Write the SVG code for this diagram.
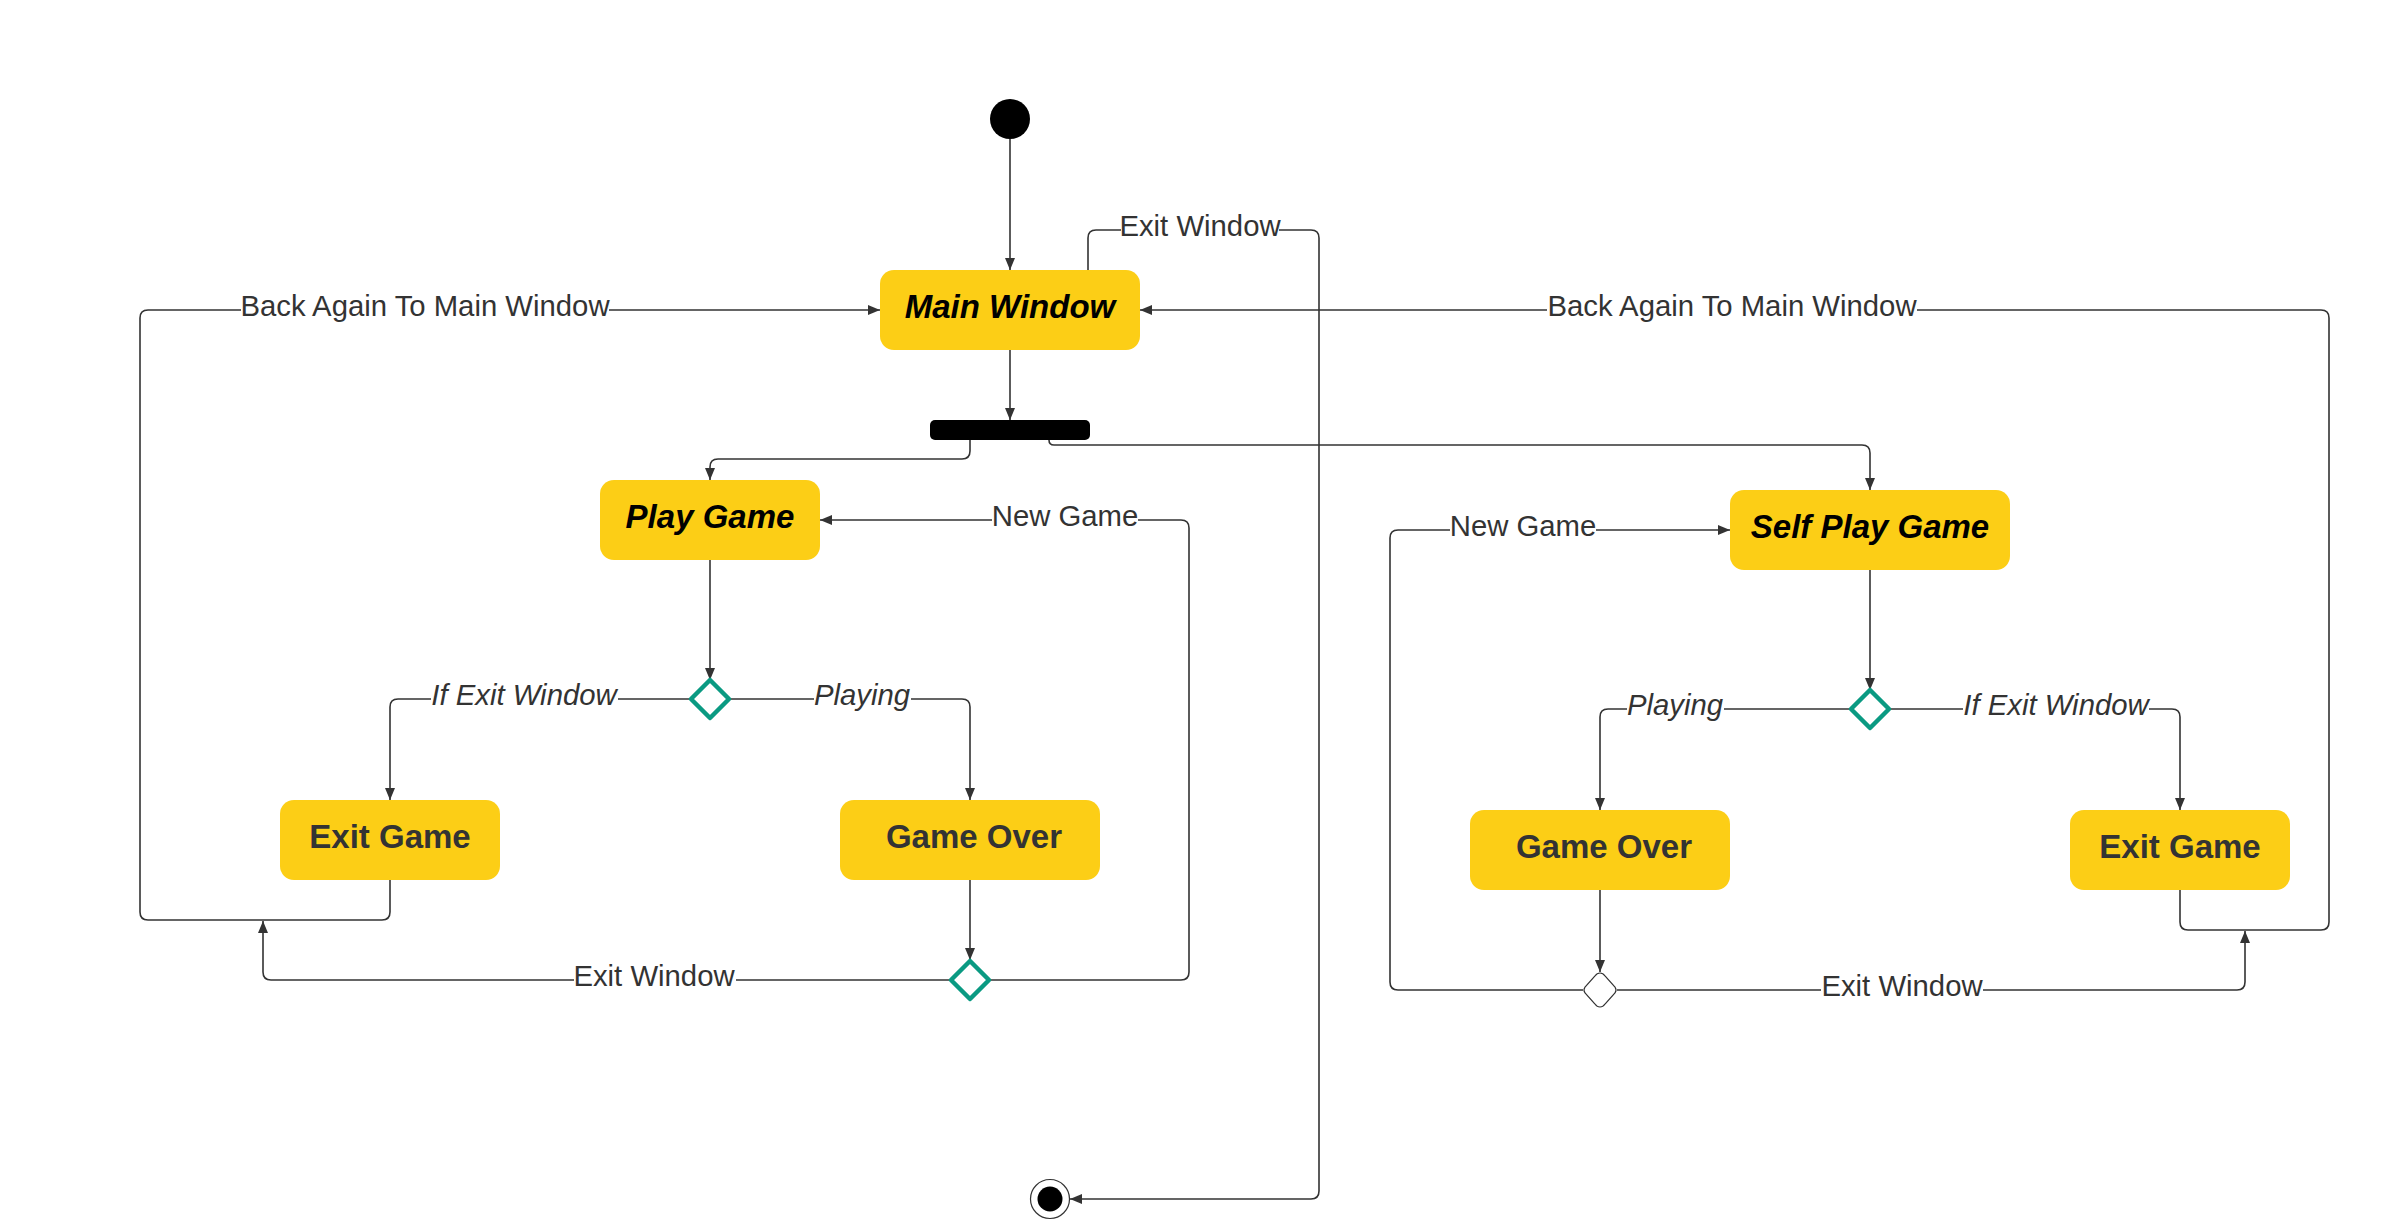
<svg xmlns="http://www.w3.org/2000/svg" width="2400" height="1220" viewBox="0 0 2400 1220">
<style>
.st{fill:#FCCE16;}
.nt{font-family:"Liberation Sans",Arial,sans-serif;font-size:33px;font-weight:bold;text-anchor:middle;}
.it{font-style:italic;fill:#000;}
.dk{fill:#333;}
.ln{fill:none;stroke:#333;stroke-width:1.6;}
.lb{font-family:"Liberation Sans",Arial,sans-serif;font-size:29.3px;fill:#333;text-anchor:middle;}
.li{font-style:italic;}
.bg{fill:#fff;}
.dm{fill:#fff;stroke:#0A9A82;stroke-width:4.5;stroke-linejoin:round;}
</style>
<defs>
<marker id="ah" viewBox="0 0 12 10" refX="12" refY="5" markerWidth="12" markerHeight="10" markerUnits="userSpaceOnUse" orient="auto">
<path d="M0,0 L12,5 L0,10 Z" fill="#333"/>
</marker>
</defs>
<rect width="2400" height="1220" fill="#fff"/>
<g id="connectors">
<path class="ln" d="M1010,139 V270" marker-end="url(#ah)"/>
<path class="ln" d="M1010,350 V420" marker-end="url(#ah)"/>
<path class="ln" d="M970,440 V451 Q970,459 962,459 H718 Q710,459 710,467 V480" marker-end="url(#ah)"/>
<path class="ln" d="M1049,440 Q1049,445 1054,445 H1862 Q1870,445 1870,453 V490" marker-end="url(#ah)"/>
<path class="ln" d="M710,560 V680" marker-end="url(#ah)"/>
<path class="ln" d="M692,699 H398 Q390,699 390,707 V800" marker-end="url(#ah)"/>
<path class="ln" d="M728,699 H962 Q970,699 970,707 V800" marker-end="url(#ah)"/>
<path class="ln" d="M970,880 V960" marker-end="url(#ah)"/>
<path class="ln" d="M952,980 H271 Q263,980 263,972 V921" marker-end="url(#ah)"/>
<path class="ln" d="M988,980 H1181 Q1189,980 1189,972 V528 Q1189,520 1181,520 H820" marker-end="url(#ah)"/>
<path class="ln" d="M390,880 V912 Q390,920 382,920 H148 Q140,920 140,912 V318 Q140,310 148,310 H880" marker-end="url(#ah)"/>
<path class="ln" d="M1088,270 V238 Q1088,230 1096,230 H1311 Q1319,230 1319,238 V1191 Q1319,1199 1311,1199 H1070" marker-end="url(#ah)"/>
<path class="ln" d="M1870,570 V690" marker-end="url(#ah)"/>
<path class="ln" d="M1852,709 H1608 Q1600,709 1600,717 V810" marker-end="url(#ah)"/>
<path class="ln" d="M1888,709 H2172 Q2180,709 2180,717 V810" marker-end="url(#ah)"/>
<path class="ln" d="M1600,890 V972" marker-end="url(#ah)"/>
<path class="ln" d="M1583,990 H1398 Q1390,990 1390,982 V538 Q1390,530 1398,530 H1730" marker-end="url(#ah)"/>
<path class="ln" d="M1617,990 H2237 Q2245,990 2245,982 V931" marker-end="url(#ah)"/>
<path class="ln" d="M2180,890 V922 Q2180,930 2188,930 H2321 Q2329,930 2329,922 V318 Q2329,310 2321,310 H1140" marker-end="url(#ah)"/>
<rect class="bg" x="1121" y="214" width="158" height="30"/>
<text class="lb" x="1200" y="236">Exit Window</text>
<rect class="bg" x="241" y="294" width="368" height="30"/>
<text class="lb" x="425" y="316">Back Again To Main Window</text>
<rect class="bg" x="1547" y="294" width="370" height="30"/>
<text class="lb" x="1732" y="316">Back Again To Main Window</text>
<rect class="bg" x="992" y="504" width="146" height="30"/>
<text class="lb" x="1065" y="526">New Game</text>
<rect class="bg" x="1450" y="514" width="146" height="30"/>
<text class="lb" x="1523" y="536">New Game</text>
<rect class="bg" x="431" y="683" width="187" height="30"/>
<text class="lb li" x="524" y="705">If Exit Window</text>
<rect class="bg" x="814" y="683" width="97" height="30"/>
<text class="lb li" x="862" y="705">Playing</text>
<rect class="bg" x="1627" y="693" width="97" height="30"/>
<text class="lb li" x="1675" y="715">Playing</text>
<rect class="bg" x="1963" y="693" width="186" height="30"/>
<text class="lb li" x="2056" y="715">If Exit Window</text>
<rect class="bg" x="574" y="964" width="162" height="30"/>
<text class="lb" x="654" y="986">Exit Window</text>
<rect class="bg" x="1821" y="974" width="162" height="30"/>
<text class="lb" x="1902" y="996">Exit Window</text>
</g>
<g id="start"><circle cx="1010" cy="119" r="20" fill="#000"/></g>
<g id="main"><rect class="st" x="880" y="270" width="260" height="80" rx="14"/><text class="nt it" x="1010" y="318">Main Window</text></g>
<g id="fork"><rect x="930" y="420" width="160" height="20" rx="5" fill="#000"/></g>
<g id="play"><rect class="st" x="600" y="480" width="220" height="80" rx="14"/><text class="nt it" x="710" y="528">Play Game</text></g>
<g id="decision1"><path class="dm" d="M710,680 L729,699 L710,718 L691,699 Z"/></g>
<g id="exitGameL"><rect class="st" x="280" y="800" width="220" height="80" rx="14"/><text class="nt dk" x="390" y="848">Exit Game</text></g>
<g id="gameOverL"><rect class="st" x="840" y="800" width="260" height="80" rx="14"/><text class="nt dk" x="974" y="848">Game Over</text></g>
<g id="decision2"><path class="dm" d="M970,961 L989,980 L970,999 L951,980 Z"/></g>
<g id="selfPlay"><rect class="st" x="1730" y="490" width="280" height="80" rx="14"/><text class="nt it" x="1870" y="538">Self Play Game</text></g>
<g id="decision3"><path class="dm" d="M1870,690 L1889,709 L1870,728 L1851,709 Z"/></g>
<g id="gameOverR"><rect class="st" x="1470" y="810" width="260" height="80" rx="14"/><text class="nt dk" x="1604" y="858">Game Over</text></g>
<g id="exitGameR"><rect class="st" x="2070" y="810" width="220" height="80" rx="14"/><text class="nt dk" x="2180" y="858">Exit Game</text></g>
<g id="decision4"><path d="M1600,973 Q1603,973 1605,976 L1615,987 Q1617,990 1615,993 L1605,1004 Q1603,1007 1600,1007 Q1597,1007 1595,1004 L1585,993 Q1583,990 1585,987 L1595,976 Q1597,973 1600,973 Z" fill="#fff" stroke="#333" stroke-width="1.2"/></g>
<g id="end"><circle cx="1050" cy="1199" r="19.5" fill="#fff" stroke="#333" stroke-width="1.2"/><circle cx="1050" cy="1199" r="12.5" fill="#000"/></g>
</svg>
